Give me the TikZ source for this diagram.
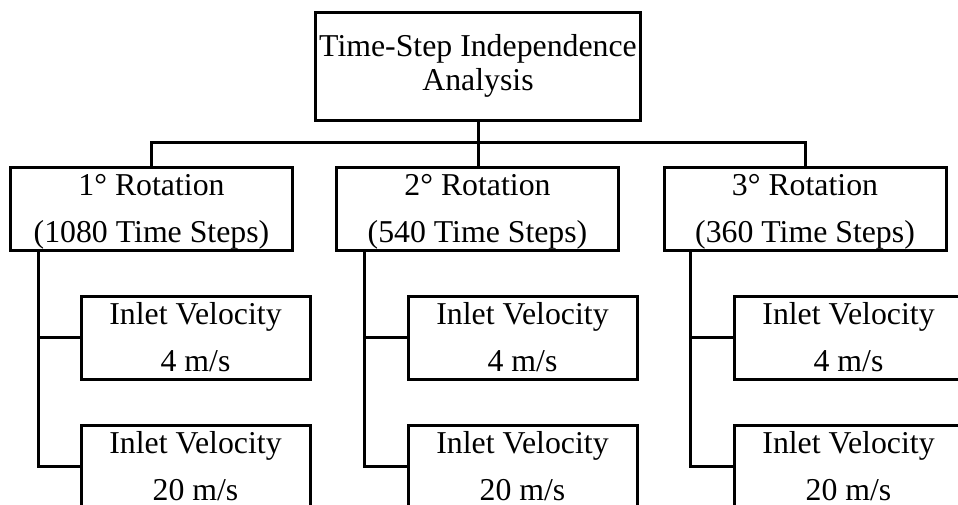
\documentclass[tikz,border=0pt]{standalone}
\usepackage{fontspec}
\setmainfont{Liberation Serif}
\begin{document}
\begin{tikzpicture}[x=0.5pt,y=-0.5pt,line width=1.5pt,
  box/.style={draw,inner sep=0pt,align=center,
    font=\fontsize{15.9}{23.5}\selectfont},
  rootbox/.style={box,minimum width=162.5pt,minimum height=54pt,
    font=\fontsize{15.9}{17}\selectfont},
  rotbox/.style={box,minimum width=141pt,minimum height=41.5pt,text depth=0pt},
  velbox/.style={box,minimum width=114.5pt,minimum height=41.5pt}]
\clip (0,0) rectangle (958,504);

% root
\node[rootbox] (top) at (478,66) {Time-Step Independence\\Analysis};

% rotation cases
\node[rotbox] (r1) at (151.5,208.5) {1° Rotation\\(1080 Time Steps)};
\node[rotbox] (r2) at (477.5,208.5) {2° Rotation\\(540 Time Steps)};
\node[rotbox] (r3) at (805,208.5) {3° Rotation\\(360 Time Steps)};

% inlet velocity cases
\node[velbox] (a1) at (195.5,337.5) {Inlet Velocity\\4 m/s};
\node[velbox] (b1) at (195.5,466.5) {Inlet Velocity\\20 m/s};
\node[velbox] (a2) at (522.5,337.5) {Inlet Velocity\\4 m/s};
\node[velbox] (b2) at (522.5,466.5) {Inlet Velocity\\20 m/s};
\node[velbox] (a3) at (848.5,337.5) {Inlet Velocity\\4 m/s};
\node[velbox] (b3) at (848.5,466.5) {Inlet Velocity\\20 m/s};

% root to rotation cases
\draw (top.south) -- (top.south |- r2.north);
\draw (r1.north) -- ++(0,-23) -| (r3.north);

% trunks from each rotation case
\foreach \i/\dx in {1/29.5,2/29.5,3/28}{
  \coordinate (t\i) at ([xshift=\dx*0.5pt]r\i.south west);
  \draw (t\i) |- (b\i.west);
  \draw (t\i |- a\i.west) -- (a\i.west);
}
\end{tikzpicture}
\end{document}
